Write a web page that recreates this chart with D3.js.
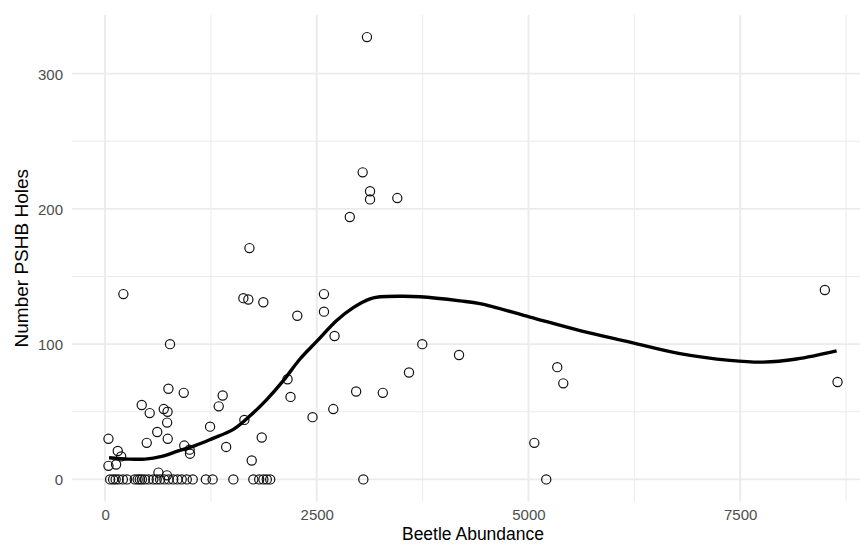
<!DOCTYPE html>
<html>
<head>
<meta charset="utf-8">
<script src="https://cdn.jsdelivr.net/npm/d3@7"></script>
<style>
  html, body { margin: 0; padding: 0; background: #fff; }
  svg { display: block; font-family: "Liberation Sans", Arial, sans-serif; }
</style>
</head>
<body>
<svg id="chart" width="860" height="544"></svg>
<script>
// ---- data ----
const beetleX = [216, 40, 40, 150, 190, 130, 433, 527, 492, 616, 693, 738, 733, 740, 748, 767, 630, 730,
  929, 935, 998, 1003, 1240, 1342, 1389, 1430, 1645, 1633, 1692, 1705, 1732, 1850, 1869, 2155, 2190,
  2270, 2450, 2585, 2585, 2695, 2710, 2890, 2965, 3042, 3093, 3129, 3129, 3280, 3451, 3589, 3746,
  4180, 5069, 5340, 5411, 8500, 8650];
const holesY = [137, 30, 10, 21, 17, 11, 55, 49, 27, 35, 52, 50, 42, 30, 67, 100, 5, 3,
  64, 25, 22, 19, 39, 54, 62, 24, 44, 134, 133, 171, 14, 31, 131, 74, 61,
  121, 46, 137, 124, 52, 106, 194, 65, 227, 327, 213, 207, 64, 208, 79, 100,
  92, 27, 83, 71, 140, 72];
// sites with zero holes
const zeroX = [60, 95, 125, 160, 210, 260, 350, 385, 410, 435, 470, 515, 570, 610, 650, 700, 750,
  805, 855, 905, 965, 1035, 1190, 1270, 1515, 1751, 1820, 1870, 1910, 1950, 3050, 5210];
// smoothed trend line
const smoothX = [47, 275, 472, 669, 865, 1063, 1260, 1515, 1712, 1909, 2105, 2302, 2499, 2735, 2931,
  3129, 3247, 3522, 3719, 4191, 4427, 5018, 5608, 6198, 6789, 7379, 7772, 8166, 8639];
const smoothY = [16, 15, 15, 17, 21, 25, 30, 37, 47, 59, 73, 89, 102, 117.5, 127,
  133.5, 135, 135.4, 135, 132, 130, 120, 110, 101.5, 93, 88, 86.7, 89, 95];
const xTicks = [0, 2500, 5000, 7500];
const xMinor = [1250, 3750, 6250, 8750];
const yTicks = [0, 100, 200, 300];
const yMinor = [50, 150, 250];

const points = beetleX.map((x, i) => ({x, y: holesY[i]}))
  .concat(zeroX.map(x => ({x, y: 0})));
const smooth = smoothX.map((x, i) => ({x, y: smoothY[i]}));

// ---- layout ----
const svg = d3.select("#chart");
const W = 860, H = 544;
svg.append("rect").attr("width", W).attr("height", H).attr("fill", "#fff");

const allX = points.map(d => d.x), allY = points.map(d => d.y);
const xr = d3.extent(allX), yr = d3.extent(allY);
const xe = (xr[1] - xr[0]) * 0.05, ye = (yr[1] - yr[0]) * 0.05;

const x = d3.scaleLinear().domain([xr[0] - xe, xr[1] + xe]).range([72, 874]);
const y = d3.scaleLinear().domain([yr[0] - ye, yr[1] + ye]).range([501.5, 15]);

const panel = {x0: x.range()[0], x1: x.range()[1], y0: y.range()[1], y1: y.range()[0]};

const grid = svg.append("g");
// minor grid
grid.selectAll("line.xminor").data(xMinor).join("line")
  .attr("x1", d => x(d)).attr("x2", d => x(d))
  .attr("y1", panel.y0).attr("y2", panel.y1)
  .attr("stroke", "#ebebeb").attr("stroke-width", 1);
grid.selectAll("line.yminor").data(yMinor).join("line")
  .attr("y1", d => y(d)).attr("y2", d => y(d))
  .attr("x1", panel.x0).attr("x2", panel.x1)
  .attr("stroke", "#ebebeb").attr("stroke-width", 1);
// major grid
grid.selectAll("line.xmajor").data(xTicks).join("line")
  .attr("x1", d => x(d)).attr("x2", d => x(d))
  .attr("y1", panel.y0).attr("y2", panel.y1)
  .attr("stroke", "#ebebeb").attr("stroke-width", 1.9);
grid.selectAll("line.ymajor").data(yTicks).join("line")
  .attr("y1", d => y(d)).attr("y2", d => y(d))
  .attr("x1", panel.x0).attr("x2", panel.x1)
  .attr("stroke", "#ebebeb").attr("stroke-width", 1.9);

// axes (labels only, no lines/ticks)
const xAxis = d3.axisBottom(x).tickValues(xTicks).tickSize(0).tickPadding(0).tickFormat(d3.format("d"));
const gx = svg.append("g").attr("transform", `translate(0,${panel.y1 + 6})`).call(xAxis);
gx.select(".domain").remove();
gx.selectAll("text").attr("fill", "#4d4d4d").attr("font-size", 15)
  .attr("font-family", "Liberation Sans, Arial, sans-serif").attr("dy", "0.8em");

const yAxis = d3.axisLeft(y).tickValues(yTicks).tickSize(0).tickPadding(0).tickFormat(d3.format("d"));
const gy = svg.append("g").attr("transform", `translate(${panel.x0 - 9},0)`).call(yAxis);
gy.select(".domain").remove();
gy.selectAll("text").attr("fill", "#4d4d4d").attr("font-size", 15)
  .attr("font-family", "Liberation Sans, Arial, sans-serif").attr("dy", "0.36em");

// points
svg.append("g").selectAll("circle").data(points).join("circle")
  .attr("cx", d => x(d.x)).attr("cy", d => y(d.y)).attr("r", 4.6)
  .attr("fill", "none").attr("stroke", "#111").attr("stroke-width", 1.2);

// smooth line
const line = d3.line().x(d => x(d.x)).y(d => y(d.y)).curve(d3.curveCatmullRom.alpha(0.5));
svg.append("path").datum(smooth).attr("d", line)
  .attr("fill", "none").attr("stroke", "#000").attr("stroke-width", 3.4)
  .attr("stroke-linejoin", "round");

// titles
svg.append("text").attr("x", (panel.x0 + panel.x1) / 2).attr("y", 540)
  .attr("text-anchor", "middle").attr("font-size", 17.5).attr("fill", "#000")
  .text("Beetle Abundance");
svg.append("text").attr("transform", `translate(28,${(panel.y0 + panel.y1) / 2}) rotate(-90)`)
  .attr("text-anchor", "middle").attr("font-size", 19).attr("fill", "#000")
  .text("Number PSHB Holes");
</script>
</body>
</html>
